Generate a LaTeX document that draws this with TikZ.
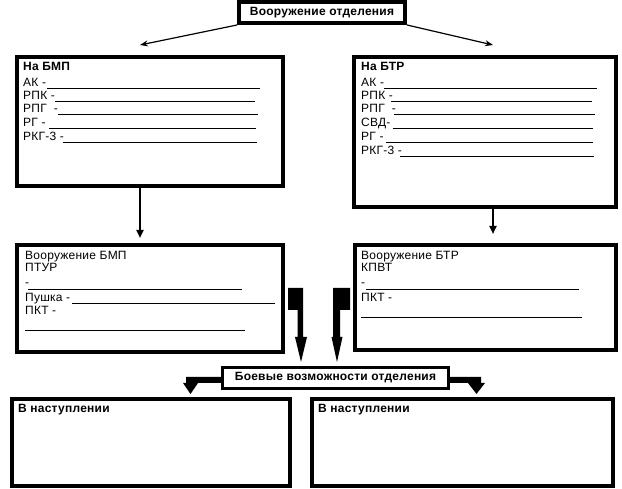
\documentclass[tikz,border=0pt]{standalone}
\usepackage{fontspec}
\setmainfont[LetterSpace=2]{Liberation Sans}
\usetikzlibrary{arrows.meta}

\tikzset{
  frame/.style={draw,line width=4pt,inner sep=0pt},
  bold/.style={font=\fontsize{12}{14}\selectfont\bfseries},
  lbl/.style={anchor=base west,inner sep=0pt,font=\fontsize{12}{14}\selectfont},
  ttl/.style={lbl,font=\fontsize{12}{14}\selectfont\bfseries},
  blank/.style={line width=0.9pt},
  thinarrow/.style={line width=1.2pt,-{Stealth[length=8pt,width=6pt]}},
  downarrow/.style={line width=2.5pt,-{Triangle[length=8pt,width=7pt]}},
  blockarrow/.style={fill=black},
}

\begin{document}
\begin{tikzpicture}[x=1pt,y=-1pt]
  \useasboundingbox (0,0) rectangle (622,489);
  \fill[white] (0,0) rectangle (622,489);

  % boxes
  \node[frame,bold,minimum width=166pt,minimum height=21pt] (arm) at (322,12.5) {Вооружение отделения};
  \node[frame,minimum width=266pt,minimum height=129pt] (bmp) at (150,121.5) {};
  \node[frame,minimum width=262pt,minimum height=150pt] (btr) at (485,132) {};
  \node[frame,minimum width=266pt,minimum height=107pt] (vbmp) at (150,298.5) {};
  \node[frame,minimum width=261pt,minimum height=105pt] (vbtr) at (485.5,297.5) {};
  \node[frame,bold,line width=3pt,minimum width=226pt,minimum height=21pt] (fight) at (335.5,378) {Боевые возможности отделения};
  \node[frame,minimum width=278pt,minimum height=87pt] (atkl) at (151,442.5) {};
  \node[frame,minimum width=301pt,minimum height=87pt] (atkr) at (462.5,442.5) {};

  % На БМП
  \node[ttl] (bmpt) at (23,71) {На БМП};
  \foreach \t/\y/\a/\b [count=\i] in {АК -/87/47/260, РПК -/100/55/255, РПГ\ \ -/113/58/258, РГ -/127/49/256, РКГ-3 -/141/63/257}{
    \node[lbl] (bmp\i) at (23,\y) {\t};
    \draw[blank] (\a,\y+1.5) -- (\b,\y+1.5);
  }

  % На БТР
  \node[ttl] (btrt) at (361,71) {На БТР};
  \foreach \t/\y/\a/\b [count=\i] in {АК -/87/384/597, РПК -/100/391/592, РПГ\ \ -/113/394/595, СВД-/127/393/593, РГ -/141/386/593, РКГ-3 -/155/400/594}{
    \node[lbl] (btr\i) at (361,\y) {\t};
    \draw[blank] (\a,\y+1.5) -- (\b,\y+1.5);
  }

  % Вооружение БМП
  \node[lbl] (vbmpt) at (25,260) {Вооружение БМП};
  \node[lbl] (vbmp1) at (25,272) {ПТУР};
  \node[lbl] (vbmp2) at (25,287) {-};
  \draw[blank] (28,289) -- (242,289);
  \node[lbl] (vbmp3) at (25,302) {Пушка -};
  \draw[blank] (72,303) -- (275,303);
  \node[lbl] (vbmp4) at (25,315) {ПКТ -};
  \draw[blank] (25,330) -- (245,330);

  % Вооружение БТР
  \node[lbl] (vbtrt) at (361,260) {Вооружение БТР};
  \node[lbl] (vbtr1) at (361,272) {КПВТ};
  \node[lbl] (vbtr2) at (361,287) {-};
  \draw[blank] (366,289) -- (579,289);
  \node[lbl] (vbtr3) at (361,302) {ПКТ -};
  \draw[blank] (361,317) -- (582,317);

  % В наступлении
  \node[ttl] (atklt) at (18,413) {В наступлении};
  \node[ttl] (atkrt) at (318,413) {В наступлении};

  % arrows
  \coordinate (lt) at (140,45);
  \coordinate (rt) at (493,45);
  \draw[thinarrow] (arm.south west) -- (lt);
  \draw[thinarrow] (arm.south east) -- (rt);
  \draw[downarrow] (bmp.south -| lt) -- ([yshift=5pt]vbmp.north -| lt);
  \draw[downarrow] (btr.south -| rt) -- ([yshift=9pt]vbtr.north -| rt);

  \fill[blockarrow] (288,288) -- (303,288) -- (303,337) -- (307,337) -- (301,362)
    -- (295,337) -- (297.5,337) -- (297.5,310) -- (288,310) -- cycle;
  \fill[blockarrow] (350,288) -- (333,288) -- (333,337) -- (331.5,337) -- (337,362)
    -- (342.5,337) -- (340,337) -- (340,310) -- (350,310) -- cycle;

  \fill[blockarrow] (fight.west |- 0,377) -- (186,377) -- (186,383) -- (183,383)
    -- (190.5,394) -- (198,383) -- (fight.west |- 0,383) -- cycle;
  \fill[blockarrow] (fight.east |- 0,377) -- (481,377) -- (481,383) -- (485,383)
    -- (476.5,394) -- (468,383) -- (fight.east |- 0,383) -- cycle;
\end{tikzpicture}
\end{document}
